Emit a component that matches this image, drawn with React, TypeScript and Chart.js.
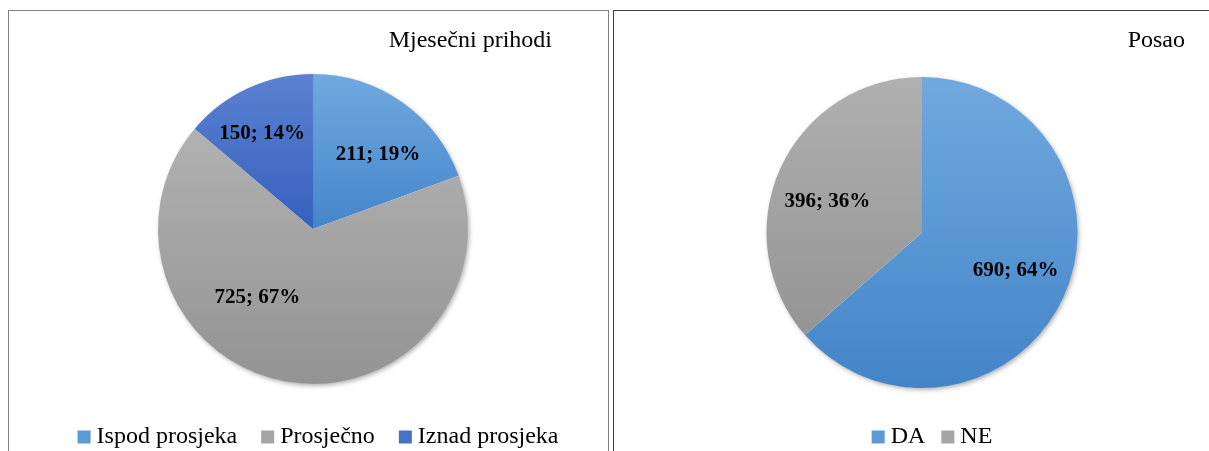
import React, { useEffect, useRef } from 'react';
import { Chart, registerables, layouts } from 'chart.js';

Chart.register(...registerables);

// ---- Data ----
const incomeTitle = 'Mjesečni prihodi';
const incomeCategories = ['Ispod prosjeka', 'Prosječno', 'Iznad prosjeka'];
const incomeValues = [211, 725, 150];

const jobTitle = 'Posao';
const jobCategories = ['DA', 'NE'];
const jobValues = [690, 396];

// ---- Styles ----
const incomeTopColors = ['#70a9df', '#b1b1b1', '#5b81d0'];
const incomeBottomColors = ['#4485ca', '#939393', '#3460bf'];
const incomeLegendColors = ['#5b9bd5', '#a5a5a5', '#4472c4'];

const jobTopColors = ['#70a9de', '#b0b0b0'];
const jobBottomColors = ['#4384c8', '#949494'];
const jobLegendColors = ['#5b9bd5', '#a5a5a5'];

const FONT = '"Liberation Serif", "Times New Roman", serif';

function sliceFill(top: string[], bottom: string[], radius: number) {
  return (c: any) => {
    const chart = c.chart;
    const area = chart.chartArea;
    const i = c.dataIndex;
    if (!area || i === undefined) return top[0];
    const data = chart.data.datasets[0].data as number[];
    const total = data.reduce((a: number, b: number) => a + b, 0);
    let before = 0;
    for (let j = 0; j < i; j++) before += data[j];
    const a0 = -Math.PI / 2 + (before / total) * 2 * Math.PI;
    const a1 = a0 + (data[i] / total) * 2 * Math.PI;
    const cy = (area.top + area.bottom) / 2;
    const ys = [cy, cy + radius * Math.sin(a0), cy + radius * Math.sin(a1)];
    for (const t of [-Math.PI / 2, Math.PI / 2, (3 * Math.PI) / 2]) {
      if (a0 <= t && t <= a1) ys.push(cy + radius * Math.sin(t));
    }
    const y0 = Math.min(...ys);
    const y1 = Math.max(...ys);
    const g = chart.ctx.createLinearGradient(0, y0, 0, y1 + 0.01);
    g.addColorStop(0, top[i]);
    g.addColorStop(1, bottom[i]);
    return g;
  };
}

const sliceLabelPlugin = {
  id: 'sliceLabels',
  beforeDatasetsDraw(chart: any) {
    const meta = chart.getDatasetMeta(0);
    const arc: any = meta.data[0];
    if (!arc) return;
    const ctx = chart.ctx;
    ctx.save();
    ctx.shadowColor = 'rgba(0,0,0,0.35)';
    ctx.shadowBlur = 5;
    ctx.shadowOffsetX = 1.5;
    ctx.shadowOffsetY = 2;
    ctx.fillStyle = '#ffffff';
    ctx.beginPath();
    ctx.arc(arc.x, arc.y, arc.outerRadius - 0.5, 0, Math.PI * 2);
    ctx.fill();
    ctx.restore();
  },
  afterDatasetsDraw(chart: any, _args: any, opts: any) {
    const meta = chart.getDatasetMeta(0);
    const data = chart.data.datasets[0].data as number[];
    const total = data.reduce((a, b) => a + b, 0);
    const ctx = chart.ctx;
    ctx.save();
    ctx.font = `bold 21px ${FONT}`;
    ctx.fillStyle = '#000';
    ctx.textAlign = 'center';
    ctx.textBaseline = 'middle';
    meta.data.forEach((arc: any, i: number) => {
      const p = opts.placement ? opts.placement[i] : null;
      const mid = (arc.startAngle + arc.endAngle) / 2;
      const ang = p ? (p[0] * Math.PI) / 180 - Math.PI / 2 : mid;
      const f = p ? p[1] : 0.63;
      const x = arc.x + Math.cos(ang) * arc.outerRadius * f;
      const y = arc.y + Math.sin(ang) * arc.outerRadius * f;
      const v = data[i];
      ctx.fillText(`${v}; ${Math.round((v / total) * 100)}%`, x, y);
    });
    ctx.restore();
  },
};

function makeSpacer(position: 'left' | 'right', size: number) {
  return {
    position,
    weight: 0,
    fullSize: false,
    options: {},
    left: 0,
    top: 0,
    right: 0,
    bottom: 0,
    width: 0,
    height: 0,
    isHorizontal() {
      return false;
    },
    update(_maxW: number, maxH: number) {
      this.width = size;
      this.height = maxH;
    },
    getPadding() {
      return { top: 0, left: 0, right: 0, bottom: 0 };
    },
    draw() {},
  };
}

type PieProps = {
  title: string;
  labels: string[];
  values: number[];
  top: string[];
  bottom: string[];
  legendColors: string[];
  radius: number;
  padding: { left: number; right: number; top: number; bottom: number };
  spacers: [number, number];
  titlePadding: { top: number; bottom: number };
  legendPadding: number;
  placement: [number, number][];
  box: React.CSSProperties;
};

function PieChart(props: PieProps) {
  const ref = useRef<HTMLCanvasElement>(null);
  useEffect(() => {
    if (!ref.current) return;
    const spacerPlugin = {
      id: 'spacers',
      beforeInit(chart: any) {
        layouts.addBox(chart, makeSpacer('left', props.spacers[0]) as any);
        layouts.addBox(chart, makeSpacer('right', props.spacers[1]) as any);
      },
    };
    const chart = new Chart(ref.current, {
      type: 'pie',
      data: {
        labels: props.labels,
        datasets: [
          {
            data: props.values,
            backgroundColor: sliceFill(props.top, props.bottom, props.radius) as any,
            borderWidth: 0,
          },
        ],
      },
      plugins: [spacerPlugin as any, sliceLabelPlugin as any],
      options: {
        animation: false,
        responsive: true,
        maintainAspectRatio: false,
        events: [],
        radius: props.radius,
        layout: { padding: props.padding },
        plugins: {
          tooltip: { enabled: false },
          title: {
            display: true,
            text: props.title,
            align: 'end',
            fullSize: false,
            color: '#000',
            font: { family: FONT, size: 24, weight: 'normal' },
            padding: props.titlePadding,
          },
          legend: {
            position: 'bottom',
            labels: {
              color: '#000',
              font: { family: FONT, size: 24 },
              usePointStyle: true,
              pointStyle: 'rect',
              boxWidth: 1,
              boxHeight: 13,
              padding: props.legendPadding,
              generateLabels: () =>
                props.labels.map((t, i) => ({
                  text: t,
                  fillStyle: props.legendColors[i],
                  strokeStyle: props.legendColors[i],
                  lineWidth: 0,
                  pointStyle: 'rect',
                  hidden: false,
                  index: i,
                  fontColor: '#000',
                })),
            },
          },
          sliceLabels: { placement: props.placement },
        } as any,
      },
    });
    return () => chart.destroy();
  }, []);
  return (
    <div style={{ position: 'absolute', ...props.box }}>
      <canvas ref={ref} />
    </div>
  );
}

export default function App() {
  return (
    <div
      style={{
        position: 'fixed',
        left: 0,
        top: 0,
        width: 1209,
        height: 451,
        overflow: 'hidden',
        background: '#fff',
      }}
    >
      <div
        style={{
          position: 'absolute',
          left: 8,
          top: 10,
          width: 599,
          height: 460,
          border: '1px solid #7f7f7f',
        }}
      />
      <div
        style={{
          position: 'absolute',
          left: 613,
          top: 10,
          width: 640,
          height: 460,
          border: '1px solid #404040',
        }}
      />
      <PieChart
        title={incomeTitle}
        labels={incomeCategories}
        values={incomeValues}
        top={incomeTopColors}
        bottom={incomeBottomColors}
        legendColors={incomeLegendColors}
        radius={155}
        padding={{ left: 25, right: 0, top: 0, bottom: 0 }}
        spacers={[40, 56]}
        titlePadding={{ top: 15.6, bottom: 7.6 }}
        legendPadding={30}
        placement={[
          [41, 0.64],
          [219, 0.57],
          [332, 0.7],
        ]}
        box={{ left: 9, top: 11, width: 599, height: 448 }}
      />
      <PieChart
        title={jobTitle}
        labels={jobCategories}
        values={jobValues}
        top={jobTopColors}
        bottom={jobBottomColors}
        legendColors={jobLegendColors}
        radius={155.5}
        padding={{ left: 24, right: 0, top: 0, bottom: 0 }}
        spacers={[21, 47]}
        titlePadding={{ top: 15.6, bottom: 6.6 }}
        legendPadding={22}
        placement={[
          [112, 0.65],
          [288, 0.64],
        ]}
        box={{ left: 614, top: 11, width: 618, height: 448 }}
      />
    </div>
  );
}
